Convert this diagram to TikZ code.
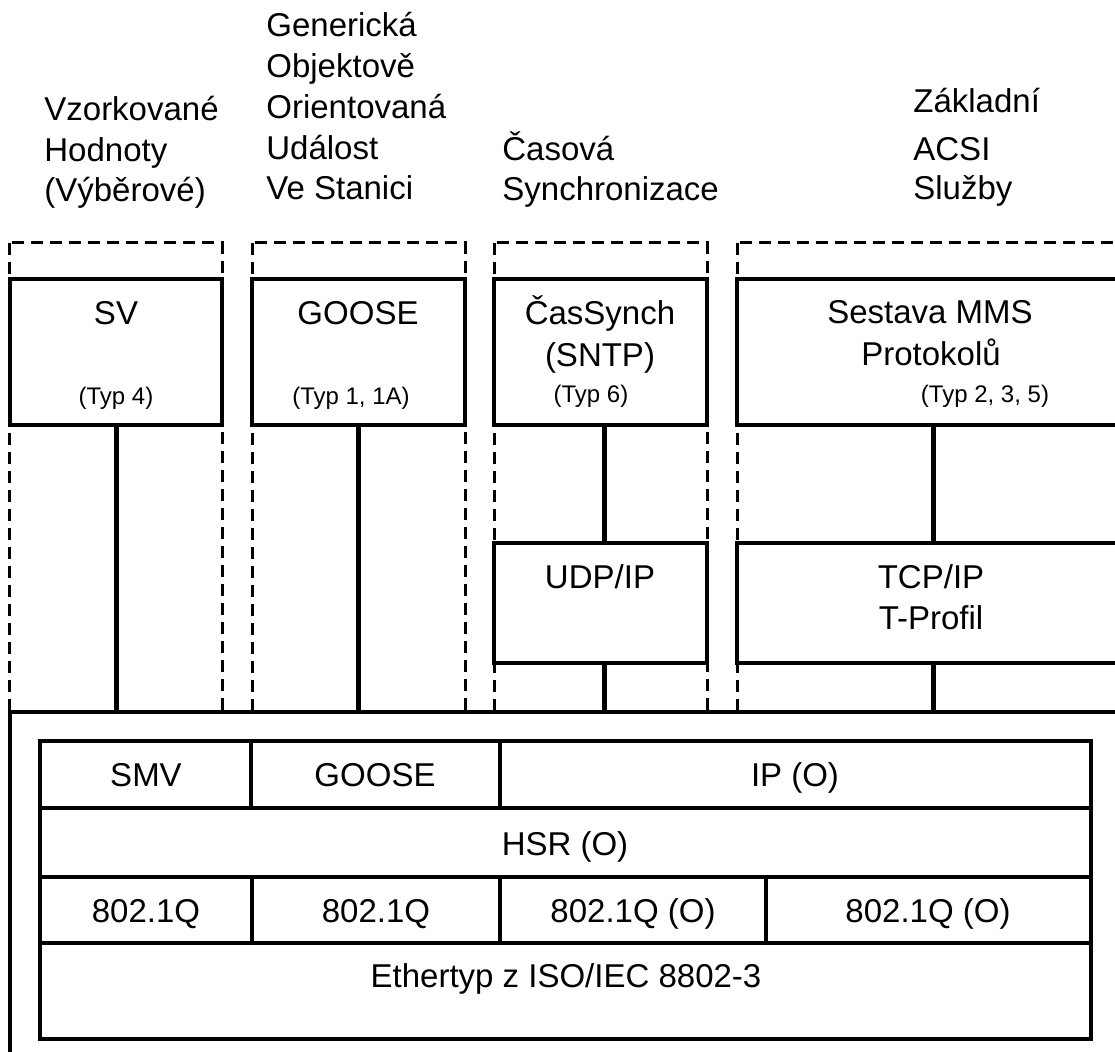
\documentclass[tikz,border=0pt]{standalone}
\usepackage{fontspec}
\setmainfont{Liberation Sans}
\usetikzlibrary{fit,positioning}

\newcommand{\hdrfont}{\fontsize{16.5}{20}\selectfont}
\newcommand{\typfont}{\fontsize{12}{14}\selectfont}

\tikzset{
  colframe/.style={line width=1.5pt, dash pattern=on 6pt off 3.5pt},
  protobox/.style={draw, line width=2pt, inner sep=0pt, outer sep=0pt},
  layercell/.style={draw, line width=2.25pt, inner sep=0pt, outer sep=0pt},
  link/.style={line width=2.5pt},
  head/.style={anchor=base west, inner sep=0pt, font=\hdrfont},
  boxtext/.style={anchor=base, inner sep=0pt, font=\hdrfont},
  typtext/.style={anchor=base, inner sep=0pt, font=\typfont},
}

\begin{document}
\begin{tikzpicture}[x=0.5pt, y=-0.5pt]
  \useasboundingbox (0,0) rectangle (1115,1052);
  \clip (0,0) rectangle (1115,1052);

  % --- Headers ---
  \node[head] (svhead1) at (44,121) {Vzorkované};
  \node[head] (svhead2) at (44,162) {Hodnoty};
  \node[head] (svhead3) at (44,202) {(Výběrové)};
  \foreach \txt [count=\i] in {Generická,Objektově,Orientovaná,Událost,Ve Stanici}
    \node[head] (goosehead\i) at (266,{37+40.75*(\i-1)}) {\txt};
  \node[head] (synchead1) at (502,161) {Časová};
  \node[head] (synchead2) at (502,201) {Synchronizace};
  \node[head] (acsihead1) at (913,113) {Základní};
  \node[head] (acsihead2) at (913,161) {ACSI};
  \node[head] (acsihead3) at (913,200) {Služby};

  % --- Dashed columns ---
  \draw[colframe] (9,243) rectangle (222,712);
  \draw[colframe] (252,243) rectangle (465,712);
  \draw[colframe] (494,243) rectangle (707,712);
  \draw[colframe] (737,243) rectangle (1140,712);

  % --- Protocol boxes ---
  \node[protobox, fit={(10,279) (222,425)}] (sv) {};
  \node[protobox, fit={(252,279) (465,425)}] (goose) {};
  \node[protobox, fit={(494,279) (707,425)}] (sync) {};
  \node[protobox, fit={(737,279) (1130,425)}] (mms) {};
  \node[protobox, fit={(494,543) (707,663)}] (udp) {};
  \node[protobox, fit={(737,543) (1130,663)}] (tcp) {};

  \node[boxtext] (svlbl) at (116,325) {SV};
  \node[typtext] (svtyp) at (116,405) {(Typ 4)};
  \node[boxtext] (gooselbl) at (358,325) {GOOSE};
  \node[typtext] (goosetyp) at (351,405) {(Typ 1, 1A)};
  \node[boxtext] (synclbl) at (600,325) {ČasSynch};
  \node[boxtext] (sntplbl) at (600,367) {(SNTP)};
  \node[typtext] (synctyp) at (591,403) {(Typ 6)};
  \node[boxtext] (mmslbl) at (930,324) {Sestava MMS};
  \node[boxtext] (protlbl) at (931,366) {Protokolů};
  \node[typtext] (mmstyp) at (985,403) {(Typ 2, 3, 5)};
  \node[boxtext] (udplbl) at (600,589) {UDP/IP};
  \node[boxtext] (tcplbl) at (931,589) {TCP/IP};
  \node[boxtext] (proflbl) at (931,630) {T-Profil};

  % --- Stack ---
  \node[protobox, fit={(10,712) (1140,1080)}] (outer) {};
  \node[layercell, fit={(40,741) (251,808)}] (smv) {};
  \node[layercell, fit={(251,741) (500,808)}] (gooselayer) {};
  \node[layercell, fit={(500,741) (1091,808)}] (ip) {};
  \node[layercell, fit={(40,808) (1091,877)}] (hsr) {};
  \node[layercell, fit={(40,877) (252,943)}] (vlan1) {};
  \node[layercell, fit={(252,877) (500,943)}] (vlan2) {};
  \node[layercell, fit={(500,877) (766,943)}] (vlan3) {};
  \node[layercell, fit={(766,877) (1091,943)}] (vlan4) {};
  \node[layercell, fit={(40,943) (1091,1039)}] (eth) {};

  \node[boxtext] (smvlbl) at (146,787) {SMV};
  \node[boxtext] (gooselayerlbl) at (375,787) {GOOSE};
  \node[boxtext] (iplbl) at (795,787) {IP (O)};
  \node[boxtext] (hsrlbl) at (565,856) {HSR (O)};
  \node[boxtext] (vlan1lbl) at (146,923) {802.1Q};
  \node[boxtext] (vlan2lbl) at (376,923) {802.1Q};
  \node[boxtext] (vlan3lbl) at (633,923) {802.1Q (O)};
  \node[boxtext] (vlan4lbl) at (928,923) {802.1Q (O)};
  \node[boxtext] (ethlbl) at (566,988) {Ethertyp z ISO/IEC 8802-3};

  % --- Links ---
  \coordinate (c3) at (604,0);
  \draw[link] (sv.south) -- (sv.south |- outer.north);
  \draw[link] (goose.south) -- (goose.south |- outer.north);
  \draw[link] (c3 |- sync.south) -- (c3 |- udp.north);
  \draw[link] (c3 |- udp.south) -- (c3 |- outer.north);
  \draw[link] (mms.south) -- (tcp.north);
  \draw[link] (tcp.south) -- (tcp.south |- outer.north);
\end{tikzpicture}
\end{document}
